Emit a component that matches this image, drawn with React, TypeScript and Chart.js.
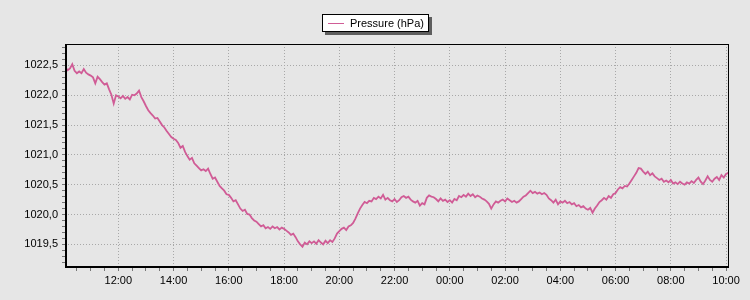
import React, { useEffect, useRef } from 'react';
import { Chart, registerables } from 'chart.js';

Chart.register(...registerables);

// Sampling of the series: first sample at 10:05, one sample every 5 minutes (hours since midnight of day 1)
const START_HOUR = 10 + 5 / 60;
const STEP_HOURS = 5 / 60;

const SERIES_LABEL = 'Pressure (hPa)';

// Pressure readings (hPa), one row per hour (10:05 .. 11:00, 11:05 .. 12:00, ...)
const pressure: number[] = [
  1022.47, 1022.42, 1022.45, 1022.52, 1022.41, 1022.37, 1022.40, 1022.37, 1022.44, 1022.38, 1022.35, 1022.33,
  1022.30, 1022.20, 1022.31, 1022.27, 1022.22, 1022.18, 1022.20, 1022.10, 1022.01, 1021.86, 1022.00, 1021.98,
  1021.95, 1021.99, 1021.94, 1021.97, 1021.93, 1022.01, 1022.00, 1022.03, 1022.08, 1021.97, 1021.90, 1021.82,
  1021.75, 1021.70, 1021.66, 1021.61, 1021.62, 1021.56, 1021.50, 1021.46, 1021.40, 1021.35, 1021.30, 1021.27,
  1021.25, 1021.20, 1021.12, 1021.15, 1021.05, 1020.98, 1020.92, 1020.95, 1020.86, 1020.82, 1020.78, 1020.74,
  1020.76, 1020.73, 1020.77, 1020.68, 1020.60, 1020.62, 1020.55, 1020.48, 1020.44, 1020.40, 1020.34, 1020.33,
  1020.28, 1020.22, 1020.24, 1020.17, 1020.10, 1020.06, 1020.08, 1020.01, 1020.00, 1019.94, 1019.90, 1019.88,
  1019.84, 1019.80, 1019.82, 1019.77, 1019.79, 1019.76, 1019.80, 1019.77, 1019.79, 1019.75, 1019.78, 1019.76,
  1019.73, 1019.70, 1019.66, 1019.68, 1019.62, 1019.55, 1019.50, 1019.46, 1019.53, 1019.50, 1019.55, 1019.52,
  1019.55, 1019.51, 1019.57, 1019.53, 1019.50, 1019.56, 1019.52, 1019.57, 1019.54, 1019.60, 1019.68, 1019.72,
  1019.76, 1019.78, 1019.74, 1019.80, 1019.82, 1019.86, 1019.93, 1020.02, 1020.10, 1020.16, 1020.21, 1020.19,
  1020.23, 1020.22, 1020.28, 1020.26, 1020.30, 1020.27, 1020.33, 1020.25, 1020.28, 1020.24, 1020.22, 1020.26,
  1020.21, 1020.24, 1020.29, 1020.31, 1020.28, 1020.30, 1020.25, 1020.22, 1020.20, 1020.23, 1020.15, 1020.19,
  1020.17, 1020.28, 1020.32, 1020.30, 1020.29, 1020.26, 1020.22, 1020.27, 1020.23, 1020.25, 1020.21, 1020.24,
  1020.20, 1020.26, 1020.24, 1020.31, 1020.29, 1020.33, 1020.30, 1020.35, 1020.31, 1020.34, 1020.29, 1020.32,
  1020.30, 1020.27, 1020.25, 1020.22, 1020.18, 1020.10, 1020.17, 1020.22, 1020.20, 1020.23, 1020.25, 1020.22,
  1020.27, 1020.24, 1020.21, 1020.23, 1020.20, 1020.22, 1020.26, 1020.30, 1020.32, 1020.36, 1020.40, 1020.36,
  1020.38, 1020.35, 1020.37, 1020.34, 1020.36, 1020.33, 1020.27, 1020.24, 1020.20, 1020.25, 1020.17, 1020.22,
  1020.20, 1020.23, 1020.19, 1020.21, 1020.17, 1020.19, 1020.14, 1020.16, 1020.12, 1020.14, 1020.10, 1020.08,
  1020.11, 1020.03, 1020.10, 1020.15, 1020.21, 1020.24, 1020.28, 1020.25, 1020.31, 1020.28, 1020.34, 1020.36,
  1020.42, 1020.46, 1020.44, 1020.48, 1020.47, 1020.52, 1020.58, 1020.64, 1020.70, 1020.78, 1020.77, 1020.72,
  1020.68, 1020.72, 1020.66, 1020.69, 1020.64, 1020.61, 1020.58, 1020.60, 1020.55, 1020.57, 1020.54, 1020.58,
  1020.52, 1020.54, 1020.51, 1020.55, 1020.52, 1020.50, 1020.54, 1020.52, 1020.56, 1020.53, 1020.58, 1020.62,
  1020.55, 1020.51, 1020.57, 1020.64, 1020.58, 1020.55, 1020.60, 1020.63, 1020.58, 1020.66, 1020.62, 1020.68,
  1020.70,
];

// Axis ranges
const X_MIN = 10.07;
const X_MAX = 34.07;
const Y_MIN = 1019.12;
const Y_MAX = 1022.86;

const BG = '#e6e6e6';
const LINE_COLOR = 'rgb(208, 92, 150)';
const GRID_COLOR = '#a8a8a8';
const TICK_COLOR = '#777777';
const FONT = "'Liberation Sans', Arial, sans-serif";

const fmtHour = (h: number) => String(((h % 24) + 24) % 24).padStart(2, '0') + ':00';

const framePlugin = {
  id: 'frameAndLegend',
  beforeDraw(chart: any) {
    const ctx = chart.ctx;
    ctx.save();
    ctx.fillStyle = BG;
    ctx.fillRect(0, 0, chart.width, chart.height);
    ctx.restore();
  },
  afterDraw(chart: any) {
    const ctx = chart.ctx;
    const a = chart.chartArea;
    const l = Math.round(a.left);
    const r = Math.round(a.right);
    const t = Math.round(a.top);
    const b = Math.round(a.bottom);
    ctx.save();
    ctx.fillStyle = '#000';
    ctx.fillRect(l, t, r - l + 1, 1);
    ctx.fillRect(r, t, 1, b - t + 1);
    ctx.fillRect(l, t, 2, b - t + 1);
    ctx.fillRect(l, b - 1, r - l + 1, 2);

    // legend box
    ctx.font = `11px ${FONT}`;
    const textW = ctx.measureText(SERIES_LABEL).width;
    const boxW = Math.round(28 + textW + 5);
    const boxH = 18;
    const boxX = Math.round(chart.width / 2 - boxW / 2);
    const boxY = 14;
    ctx.fillStyle = '#5e5e5e';
    ctx.fillRect(boxX + 3, boxY + 3, boxW, boxH);
    ctx.fillStyle = '#ffffff';
    ctx.fillRect(boxX, boxY, boxW, boxH);
    ctx.strokeStyle = '#000';
    ctx.lineWidth = 1;
    ctx.strokeRect(boxX + 0.5, boxY + 0.5, boxW - 1, boxH - 1);
    ctx.strokeStyle = LINE_COLOR;
    ctx.beginPath();
    ctx.moveTo(boxX + 6, boxY + 9.5);
    ctx.lineTo(boxX + 22, boxY + 9.5);
    ctx.stroke();
    ctx.fillStyle = '#000';
    ctx.textBaseline = 'alphabetic';
    ctx.textAlign = 'left';
    ctx.fillText(SERIES_LABEL, boxX + 28, boxY + 13);
    ctx.restore();
  },
};

export default function App() {
  const ref = useRef<HTMLCanvasElement>(null);

  useEffect(() => {
    if (!ref.current) return;
    const points = pressure.map((v, i) => ({ x: START_HOUR + i * STEP_HOURS, y: v }));
    const chart = new Chart(ref.current, {
      type: 'line',
      data: {
        datasets: [
          {
            label: SERIES_LABEL,
            data: points,
            borderColor: LINE_COLOR,
            borderWidth: 1.8,
            pointRadius: 0,
            tension: 0,
            fill: false,
          },
        ],
      },
      options: {
        responsive: false,
        animation: false,
        layout: { padding: { left: 0, right: 22, top: 44, bottom: 0 } },
        plugins: {
          legend: { display: false },
          tooltip: { enabled: false },
        },
        scales: {
          x: {
            type: 'linear',
            min: X_MIN,
            max: X_MAX,
            afterBuildTicks: (scale: any) => {
              const ticks: any[] = [];
              for (let k = Math.ceil(X_MIN * 2); k <= Math.floor(X_MAX * 2); k++) ticks.push({ value: k / 2 });
              scale.ticks = ticks;
            },
            afterFit: (scale: any) => {
              scale.height = 33;
            },
            ticks: {
              autoSkip: false,
              maxRotation: 0,
              padding: 3,
              color: '#000',
              font: { family: FONT, size: 11 },
              callback: (value: any) => {
                const k = Math.round(Number(value) * 2);
                return k % 4 === 0 ? fmtHour(k / 2) : '';
              },
            },
            grid: {
              color: (c: any) => (Math.round(c.tick.value * 2) % 4 === 0 ? GRID_COLOR : 'rgba(0,0,0,0)'),
              tickColor: TICK_COLOR,
              tickLength: 4,
              tickBorderDash: [],
              lineWidth: 1,
            },
            border: { display: false, dash: [1, 2] },
          },
          y: {
            type: 'linear',
            min: Y_MIN,
            max: Y_MAX,
            afterBuildTicks: (scale: any) => {
              const ticks: any[] = [];
              for (let k = Math.ceil(Y_MIN * 10); k <= Math.floor(Y_MAX * 10); k++) ticks.push({ value: k / 10 });
              scale.ticks = ticks;
            },
            afterFit: (scale: any) => {
              scale.width = 65;
            },
            ticks: {
              autoSkip: false,
              padding: 4,
              color: '#000',
              font: { family: FONT, size: 11 },
              callback: (value: any) => {
                const k = Math.round(Number(value) * 10);
                return k % 5 === 0 ? (k / 10).toFixed(1).replace('.', ',') : '';
              },
            },
            grid: {
              color: (c: any) => (Math.round(c.tick.value * 10) % 5 === 0 ? GRID_COLOR : 'rgba(0,0,0,0)'),
              tickColor: TICK_COLOR,
              tickLength: 3,
              tickBorderDash: [],
              lineWidth: 1,
            },
            border: { display: false, dash: [1, 2] },
          },
        },
      },
      plugins: [framePlugin],
    });
    return () => chart.destroy();
  }, []);

  return (
    <div style={{ position: 'fixed', left: 0, top: 0, width: 750, height: 300 }}>
      <canvas ref={ref} width={750} height={300} style={{ display: 'block' }} />
    </div>
  );
}
